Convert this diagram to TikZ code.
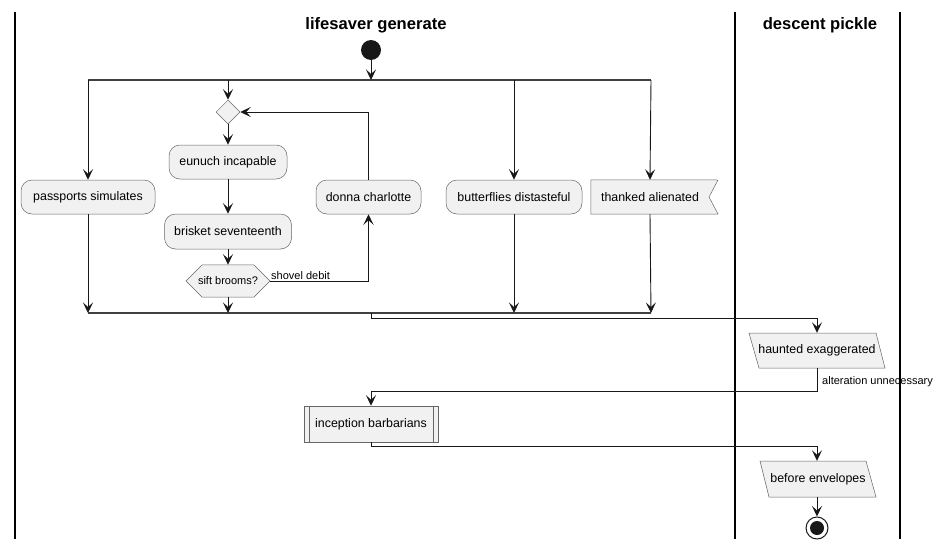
\documentclass[tikz,border=0pt]{standalone}
\usepackage{fontspec}
\setmainfont{Liberation Sans}
\usetikzlibrary{arrows.meta,shapes.geometric,shapes.misc}
\definecolor{nodefill}{HTML}{F1F1F1}
\definecolor{ink}{HTML}{181818}
\begin{document}
\begin{tikzpicture}[x=1pt,y=-1pt,
  lane/.style={line width=1.5pt,black},
  flow/.style={draw=ink,line width=0.9pt,-{Stealth[length=10.5pt,width=10pt,inset=4.5pt]}},
  plain/.style={draw=ink,line width=0.9pt},
  bar/.style={line width=2.2pt,draw=black!75},
  act/.style={draw=black!60,line width=0.5pt,fill=nodefill,rounded corners=11pt,inner sep=0pt,font=\fontsize{12.4}{14}\selectfont,minimum height=34pt},
  box/.style={draw=black!60,line width=0.5pt,fill=nodefill,inner sep=0pt,font=\fontsize{12.4}{14}\selectfont,minimum height=34pt},
  lbl/.style={font=\fontsize{11}{13}\selectfont,inner sep=0pt},
  title/.style={font=\fontsize{16.6}{20}\selectfont\bfseries,inner sep=0pt}
]
\useasboundingbox (0,0) rectangle (943,549);
% lanes
\draw[lane] (15,12) -- (15,539);
\draw[lane] (735,12) -- (735,539);
\draw[lane] (900,12) -- (900,539);
\node[title] (t1) at (376,25) {lifesaver generate};
\node[title] (t2) at (820,25) {descent pickle};
% start
\node[circle,fill=ink,minimum size=20pt,inner sep=0pt] (start) at (371,50) {};
% fork and join bars
\coordinate (fL) at (88,80); \coordinate (fR) at (651,80);
\coordinate (f1) at (228,80); \coordinate (f2) at (514,80); \coordinate (fS) at (371,80);
\draw[bar] (fL) -- (fR);
\coordinate (jL) at (88,313); \coordinate (jR) at (651,313);
\coordinate (j1) at (228,313); \coordinate (j2) at (514,313); \coordinate (jS) at (371,313);
\draw[bar] (jL) -- (jR);
% nodes
\node[diamond,draw=black!60,line width=0.5pt,fill=nodefill,minimum width=24pt,minimum height=24pt,inner sep=0pt] (merge) at (228,112) {};
\node[act,minimum width=118pt] (eunuch) at (228,162) {eunuch incapable};
\node[act,minimum width=127pt,minimum height=35pt] (brisket) at (228,231.5) {brisket seventeenth};
\node[chamfered rectangle,chamfered rectangle xsep=12pt,chamfered rectangle ysep=12pt,draw=black!60,line width=0.5pt,fill=nodefill,inner sep=0pt,minimum width=84pt,minimum height=24pt,font=\fontsize{11}{13}\selectfont] (sift) at (228,281) {sift brooms?};
\node[act,minimum width=105pt] (donna) at (368.5,197) {donna charlotte};
\node[act,minimum width=134pt] (pass) at (88,197) {passports simulates};
\node[act,minimum width=136pt] (butter) at (514,197) {butterflies distasteful};
\node[inner sep=0pt,minimum width=118pt,minimum height=34pt] (thank) at (650,197) {};
\draw[draw=black!60,line width=0.5pt,fill=nodefill] (thank.north west) -- (718,180) -- (709,197) -- (718,214) -- (thank.south west) -- cycle;
\node[font=\fontsize{12.4}{14}\selectfont] at (thank) {thanked alienated};
% parallelograms
\node[inner sep=0pt,minimum width=122pt,minimum height=35pt] (haunt) at (817,350.5) {};
\draw[draw=black!60,line width=0.5pt,fill=nodefill] (749,333) -- (876,333) -- (885,368) -- (759,368) -- cycle;
\node[font=\fontsize{12.4}{14}\selectfont] at (817,350.5) {haunted exaggerated};
\node[inner sep=0pt,minimum width=110pt,minimum height=36pt] (before) at (817,479) {};
\draw[draw=black!60,line width=0.5pt,fill=nodefill] (760,461) -- (866,461) -- (876,497) -- (769,497) -- cycle;
\node[font=\fontsize{12.4}{14}\selectfont] at (818,479) {before envelopes};
% subprocess
\node[box,minimum width=134pt,minimum height=36pt] (incep) at (371,424) {inception barbarians};
\draw[draw=black!60,line width=0.5pt] ([xshift=5pt]incep.north west) -- ([xshift=5pt]incep.south west);
\draw[draw=black!60,line width=0.5pt] ([xshift=-5pt]incep.north east) -- ([xshift=-5pt]incep.south east);
% end
\node[circle,draw=ink,line width=1pt,fill=white,minimum size=22pt,inner sep=0pt] (stop) at (817,528) {};
\node[circle,fill=ink,minimum size=14pt,inner sep=0pt] at (stop) {};
% connectors
\draw[flow] (start) -- (fS);
\draw[flow] (fL) -- (pass.north);
\draw[flow] (f1) -- (merge.north);
\draw[flow] (f2) -- (butter.north);
\draw[flow] (fR) -- (thank.north);
\draw[flow] (merge.south) -- (eunuch.north);
\draw[flow] (eunuch.south) -- (brisket.north);
\draw[flow] (brisket.south) -- (sift.north);
\draw[flow] (sift.south) -- (j1);
\draw[flow] (sift.east) -| (donna.south);
\node[lbl,anchor=south west] (shov) at (271,280) {shovel debit};
\draw[flow] (donna.north) |- (merge.east);
\draw[flow] (pass.south) -- (jL);
\draw[flow] (butter.south) -- (j2);
\draw[flow] (thank.south) -- (jR);
\coordinate (c1) at (371,318);
\coordinate (c2) at (817,318);
\draw[flow] (jS) -- (c1) -- (c2) -- (haunt.north);
\coordinate (c3) at (817,391);
\coordinate (c4) at (371,391);
\draw[flow] (haunt.south) -- (c3) -- (c4) -- (incep.north);
\node[lbl,anchor=west] (alt) at (822,382) {alteration unnecessary};
\coordinate (c5) at (371,446);
\coordinate (c6) at (817,446);
\draw[flow] (incep.south) -- (c5) -- (c6) -- (before.north);
\draw[flow] (before.south) -- (stop.north);
\end{tikzpicture}
\end{document}
